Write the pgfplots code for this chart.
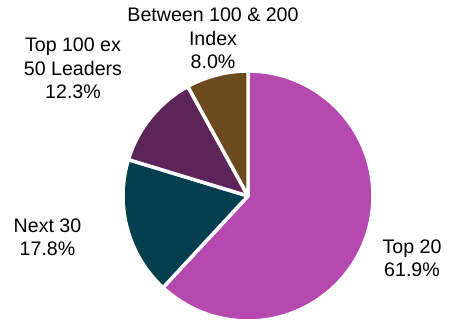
\documentclass[border=0pt]{standalone}
\usepackage{pgfplots}
\pgfplotsset{compat=1.18}
\usepackage{pgfplotstable}
\usepackage{fontspec}
\setmainfont{Liberation Sans}
\definecolor{cTop}{HTML}{B549AF}
\definecolor{cNext}{HTML}{033F4F}
\definecolor{cEx}{HTML}{5C2458}
\definecolor{cBet}{HTML}{6B4A1E}
\pgfplotstableread{
name share
Top20 61.9
Next30 17.8
Top100ex 12.3
Between 8.0
}\piedata
\begin{document}
\begin{tikzpicture}
\begin{axis}[
  scale only axis, width=453pt, height=324pt,
  xmin=-1.984, xmax=1.64, ymin=-1.024, ymax=1.568,
  hide axis, clip=false,
]
\pgfplotstablegetelem{0}{share}\of{\piedata}\let\va\pgfplotsretval
\pgfplotstablegetelem{1}{share}\of{\piedata}\let\vb\pgfplotsretval
\pgfplotstablegetelem{2}{share}\of{\piedata}\let\vc\pgfplotsretval
\pgfplotstablegetelem{3}{share}\of{\piedata}\let\vd\pgfplotsretval
\pgfmathsetmacro{\aA}{90}
\pgfmathsetmacro{\aB}{\aA-3.6*\va}
\pgfmathsetmacro{\aC}{\aB-3.6*\vb}
\pgfmathsetmacro{\aD}{\aC-3.6*\vc}
\pgfmathsetmacro{\aE}{\aD-3.6*\vd}
\filldraw[fill=cTop, draw=white, line width=3.5pt, line join=round]
  (axis cs:0,0) -- (axis cs:{cos(\aA)},{sin(\aA)}) arc[start angle=\aA, end angle=\aB, radius=1] -- cycle;
\filldraw[fill=cNext, draw=white, line width=3.5pt, line join=round]
  (axis cs:0,0) -- (axis cs:{cos(\aB)},{sin(\aB)}) arc[start angle=\aB, end angle=\aC, radius=1] -- cycle;
\filldraw[fill=cEx, draw=white, line width=3.5pt, line join=round]
  (axis cs:0,0) -- (axis cs:{cos(\aC)},{sin(\aC)}) arc[start angle=\aC, end angle=\aD, radius=1] -- cycle;
\filldraw[fill=cBet, draw=white, line width=3.5pt, line join=round]
  (axis cs:0,0) -- (axis cs:{cos(\aD)},{sin(\aD)}) arc[start angle=\aD, end angle=\aE, radius=1] -- cycle;
\tikzset{lbl/.style={align=center, font=\fontsize{19.6}{23.5}\selectfont, inner sep=0pt}}
\node[lbl] at (axis cs:-0.28,1.26) {Between 100 \& 200\\Index\\8.0\%};
\node[lbl] at (axis cs:-1.40,1.02) {Top 100 ex\\50 Leaders\\12.3\%};
\node[lbl] at (axis cs:-1.604,-0.33) {Next 30\\17.8\%};
\node[lbl] at (axis cs:1.312,-0.50) {Top 20\\61.9\%};
\end{axis}
\pgfresetboundingbox
\path (current axis.south west) rectangle (current axis.north east);
\end{tikzpicture}
\end{document}
